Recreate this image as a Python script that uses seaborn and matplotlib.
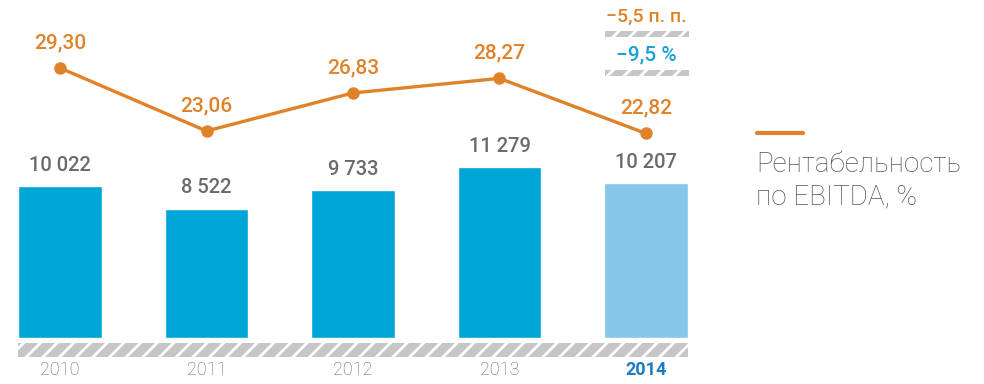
import numpy as np
import pandas as pd
import seaborn as sns
import matplotlib.pyplot as plt
from matplotlib.patches import Rectangle

sns.set_style("white")
plt.rcParams['font.family'] = ['Roboto', 'DejaVu Sans']

# DATA
years = ["2010", "2011", "2012", "2013", "2014"]
ebitda = [10022, 8522, 9733, 11279, 10207]
ebitda_labels = ["10 022", "8 522", "9 733", "11 279", "10 207"]
margin = [29.30, 23.06, 26.83, 28.27, 22.82]
margin_labels = ["29,30", "23,06", "26,83", "28,27", "22,82"]
change_pp = "\u22125,5 п. п."
change_pct = "\u22129,5 %"
legend_text = "Рентабельность\nпо EBITDA, %"

BLUE = "#00a5d8"
BLUE_LIGHT = "#86c7ea"
ORANGE = "#e0822a"
GREY = "#6b6b6b"
bar_colors = [BLUE, BLUE, BLUE, BLUE, BLUE_LIGHT]

W, H = 984, 384
fig = plt.figure(figsize=(W / 100, H / 100), dpi=100)

def px_axes(x0, y0, x1, y1):
    # pixel box (from top-left) -> figure axes
    return fig.add_axes([x0 / W, 1 - y1 / H, (x1 - x0) / W, (y1 - y0) / H])

ax = px_axes(18, 0, 688, 338)
df = pd.DataFrame({"year": years, "ebitda": ebitda})
sns.barplot(data=df, x="year", y="ebitda", hue="year", palette=bar_colors,
            width=0.573, saturation=1, legend=False, ax=ax)
ax.set_xlim(-0.2867, 4.2867)
ax.set_ylim(0, 22280)
for i, v in enumerate(ebitda):
    ax.text(i, v + 750, ebitda_labels[i], ha="center", va="bottom",
            fontsize=14.5, fontweight="medium", color=GREY)

ax2 = ax.twinx()
dl = pd.DataFrame({"x": np.arange(len(years)), "m": margin})
sns.lineplot(data=dl, x="x", y="m", color=ORANGE, lw=2.4, marker="o",
             markersize=9, markeredgewidth=0, ax=ax2)
ax2.set_ylim(2.57, 36.03)
ax2.set_xlim(-0.2867, 4.2867)
for i, v in enumerate(margin):
    ax2.text(i, v + 1.55, margin_labels[i], ha="center", va="bottom",
             fontsize=15, fontweight="medium", color=ORANGE)

for a in (ax, ax2):
    a.axis("off")

# hatched strips
def strip(x0, y0, x1, y1):
    s = px_axes(x0, y0, x1, y1)
    s.add_patch(Rectangle((0, 0), 1, 1, transform=s.transAxes,
                          facecolor="#c6c6c6", edgecolor="white",
                          hatch="//", lw=0))
    s.axis("off")
    return s

plt.rcParams['hatch.linewidth'] = 2.0
strip(18, 343, 688, 357)
strip(605, 31, 689, 37)
strip(605, 70, 689, 76)

# year labels
for i, y in enumerate(years):
    last = i == len(years) - 1
    fig.text((60 + 146.5 * i) / W, 1 - 370 / H, y, ha="center", va="center",
             fontsize=13, color="#1a7cc1" if last else "#666666",
             fontweight="bold" if last else "light")

fig.text(646 / W, 1 - 17 / H, change_pp, ha="center", va="center",
         fontsize=14, fontweight="medium", color=ORANGE)
fig.text(646 / W, 1 - 55 / H, change_pct, ha="center", va="center",
         fontsize=15, fontweight="medium", color="#19a0d6")

# legend
fig.add_artist(plt.Line2D([757 / W, 803 / W], [1 - 133 / H, 1 - 133 / H],
                          color=ORANGE, lw=3, transform=fig.transFigure))
fig.text(756 / W, 1 - 181 / H, legend_text, ha="left", va="center",
         fontsize=20, fontweight="light", color="#555555", linespacing=1.25)

fig.savefig("out.png", dpi=100)
